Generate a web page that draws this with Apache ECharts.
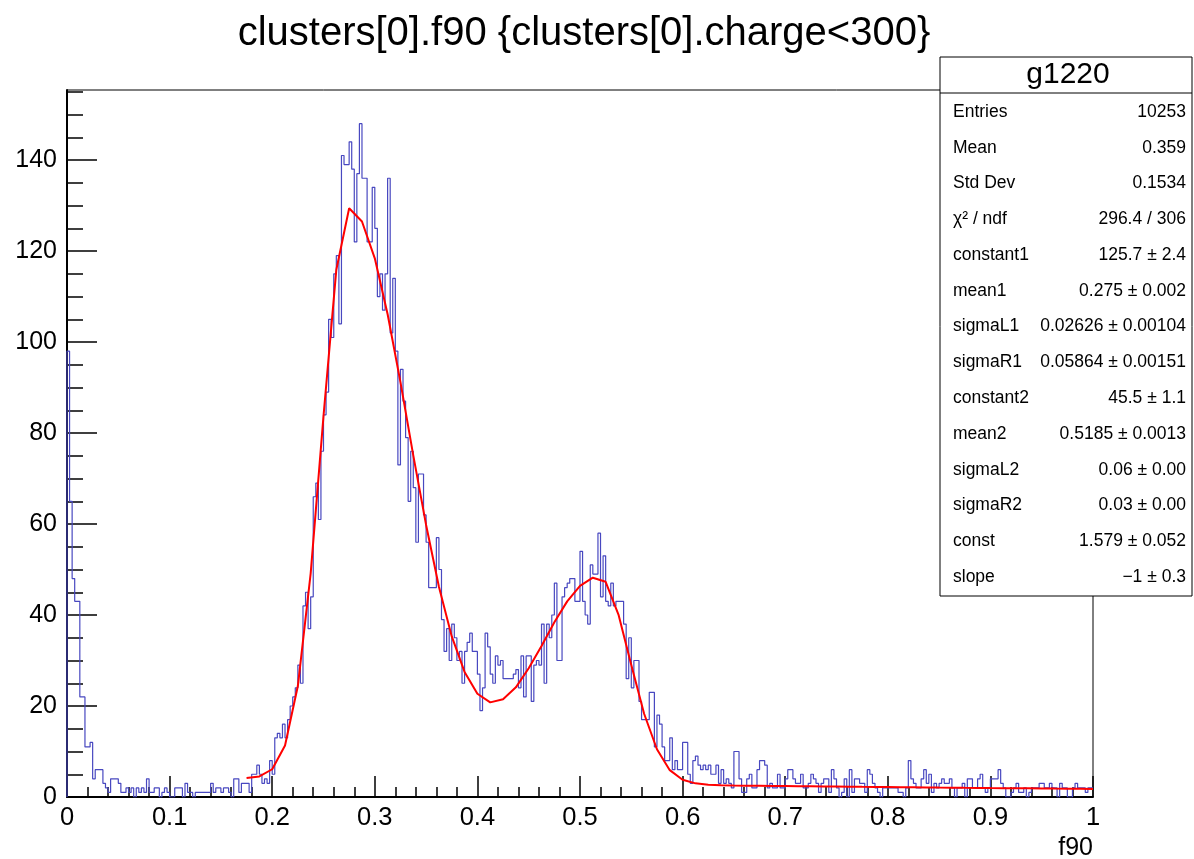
<!DOCTYPE html>
<html><head><meta charset="utf-8">
<script src="https://cdn.jsdelivr.net/npm/echarts@6/dist/echarts.min.js"></script>
<style>html,body{margin:0;padding:0;background:#fff}#c{width:1194px;height:859px}</style>
</head><body><div id="c"></div>
<script>
// ---- data ----
const binLow = 0, binHigh = 1, nBins = 400;
const counts = [
 98, 65, 48, 43, 43, 22, 22, 11, 11, 12,
 4, 6, 6, 6, 3, 2, 1, 4, 4, 4,
 3, 1, 1, 2, 1, 2, 0, 2, 1, 2,
 1, 4, 1, 1, 2, 2, 0, 1, 2, 1,
 0, 0, 2, 2, 2, 0, 3, 1, 1, 0,
 1, 1, 1, 1, 1, 1, 3, 1, 2, 2,
 1, 2, 2, 1, 0, 4, 4, 1, 3, 3,
 3, 1, 5, 5, 7, 5, 3, 4, 3, 8,
 5, 13, 14, 13, 16, 13, 17, 20, 22, 24,
 29, 25, 42, 45, 37, 44, 66, 69, 61, 76,
 84, 89, 105, 101, 115, 119, 104, 141, 139, 139,
 144, 138, 122, 137, 148, 136, 136, 122, 122, 134,
 125, 110, 115, 107, 115, 136, 102, 114, 98, 73,
 94, 87, 79, 65, 76, 68, 56, 71, 71, 62,
 56, 46, 46, 46, 57, 50, 39, 32, 37, 30,
 38, 35, 30, 32, 25, 32, 34, 36, 32, 32,
 27, 19, 24, 36, 33, 27, 25, 31, 29, 30,
 26, 26, 26, 26, 27, 28, 24, 31, 22, 31,
 31, 21, 29, 30, 29, 38, 25, 38, 35, 40,
 47, 30, 30, 44, 46, 47, 48, 48, 43, 43,
 54, 43, 40, 38, 51, 49, 49, 58, 44, 53,
 43, 42, 47, 42, 43, 43, 43, 38, 26, 35,
 24, 30, 30, 21, 17, 17, 17, 23, 23, 11,
 18, 16, 11, 8, 8, 13, 6, 8, 6, 6,
 12, 12, 5, 3, 8, 9, 7, 6, 7, 6,
 7, 5, 5, 7, 3, 6, 3, 4, 3, 2,
 10, 10, 4, 1, 1, 4, 5, 2, 2, 6,
 8, 8, 7, 2, 3, 2, 2, 5, 2, 2,
 4, 6, 6, 4, 3, 3, 5, 2, 2, 3,
 5, 4, 3, 1, 3, 4, 4, 1, 6, 4,
 2, 0, 1, 4, 0, 6, 1, 4, 4, 3,
 3, 1, 6, 5, 3, 2, 1, 0, 2, 2,
 2, 2, 2, 2, 1, 1, 0, 2, 8, 4,
 3, 2, 2, 4, 6, 3, 5, 1, 3, 2,
 3, 4, 3, 3, 4, 2, 0, 2, 2, 3,
 0, 4, 4, 2, 2, 4, 5, 2, 1, 2,
 4, 4, 4, 6, 3, 2, 0, 0, 1, 2,
 3, 1, 1, 2, 0, 1, 2, 2, 2, 3,
 3, 2, 2, 3, 2, 2, 0, 3, 2, 2,
 0, 0, 2, 3, 2, 2, 2, 1, 2, 2
];
const fitStart = 0.175, fitStep = 0.0125;
const fitValues = [
 4.16, 4.51, 6.10, 11.32, 24.38, 49.17, 83.7, 115.9, 129.4,
 126.5, 118.4, 106.1, 91.2, 75.1, 59.8, 46.2, 35.3, 27.5, 22.7,
 20.8, 21.5, 24.1, 28.3, 33.2, 38.4, 43.0, 46.4,
 48.2, 47.3, 40.1, 29.0, 18.3, 10.5, 5.9, 3.8,
 3.0, 2.7, 2.58, 2.53, 2.50, 2.47, 2.44, 2.41,
 2.38, 2.35, 2.32, 2.29, 2.26, 2.23, 2.21, 2.18,
 2.15, 2.13, 2.10, 2.07, 2.05, 2.02, 2.00, 1.97,
 1.95, 1.92, 1.90, 1.88, 1.85, 1.83, 1.81, 1.78
];
const xTickLabels = [0, 0.1, 0.2, 0.3, 0.4, 0.5, 0.6, 0.7, 0.8, 0.9, 1];
const yTickLabels = [0, 20, 40, 60, 80, 100, 120, 140];
const yMax = 155.4;
const titleText = 'clusters[0].f90 {clusters[0].charge<300}';
const xTitle = 'f90';
const statsTitle = 'g1220';
const statsLabels = ['Entries', 'Mean', 'Std Dev', 'χ² / ndf', 'constant1', 'mean1', 'sigmaL1', 'sigmaR1', 'constant2', 'mean2', 'sigmaL2', 'sigmaR2', 'const', 'slope'];
const statsValues = ['10253', '0.359', '0.1534', '296.4 / 306', '125.7 ± 2.4', '0.275 ± 0.002', '0.02626 ± 0.00104', '0.05864 ± 0.00151', '45.5 ± 1.1', '0.5185 ± 0.0013', '0.06 ± 0.00', '0.03 ± 0.00', '1.579 ± 0.052', '−1 ± 0.3'];

// ---- build ----
const FONT = '"Liberation Sans", Arial, Helvetica, sans-serif';
const w = (binHigh - binLow) / nBins;
const histPts = [[binLow, 0]];
counts.forEach((c, i) => { histPts.push([binLow + i * w, c]); histPts.push([binLow + (i + 1) * w, c]); });
const fitPts = fitValues.map((v, i) => [fitStart + i * fitStep, v]);
const xMinor = []; for (let i = 0; i <= 50; i++) xMinor.push(+(i * 0.02).toFixed(2));
const yMinor = []; for (let i = 0; i <= 31; i++) yMinor.push(i * 5);

const chart = echarts.init(document.getElementById('c'), null, {renderer: 'canvas'});
const axisCommon = {type: 'value', splitLine: {show: false}, axisLine: {onZero: false}};
const statsGraphics = [];
const bx = 940, by = 57, bw = 252, bh = 539, rowY0 = 112, rowDy = 35.77;
statsGraphics.push({type: 'rect', shape: {x: bx, y: by, width: bw, height: bh}, style: {fill: '#fff', stroke: '#000', lineWidth: 1}, z: 100});
statsGraphics.push({type: 'line', shape: {x1: bx, y1: 93, x2: bx + bw, y2: 93}, style: {stroke: '#000', lineWidth: 1}, z: 101});
statsGraphics.push({type: 'text', x: 1068, y: 75, style: {text: statsTitle, fontSize: 30, fontFamily: FONT, fill: '#000', align: 'center', verticalAlign: 'middle'}, z: 101});
statsLabels.forEach((l, i) => {
  statsGraphics.push({type: 'text', x: 953, y: rowY0 + i * rowDy, style: {text: l, fontSize: 17.5, fontFamily: FONT, fill: '#000', align: 'left', verticalAlign: 'middle'}, z: 101});
  statsGraphics.push({type: 'text', x: 1186, y: rowY0 + i * rowDy, style: {text: statsValues[i], fontSize: 17.5, fontFamily: FONT, fill: '#000', align: 'right', verticalAlign: 'middle'}, z: 101});
});

chart.setOption({
  animation: false,
  backgroundColor: '#fff',
  grid: {left: 67, right: 101, top: 90, bottom: 62, show: true, borderColor: '#000', borderWidth: 1, backgroundColor: 'transparent'},
  xAxis: [
    Object.assign({}, axisCommon, {min: 0, max: 1, interval: 0.1, position: 'bottom',
      axisLine: {show: true, onZero: false, lineStyle: {color: '#000', width: 2}},
      axisTick: {show: true, inside: true, length: 21, customValues: xTickLabels, lineStyle: {color: '#000', width: 1.5}},
      axisLabel: {customValues: xTickLabels, color: '#000', fontSize: 25.5, fontFamily: FONT, margin: 8, formatter: v => String(v)}}),
    Object.assign({}, axisCommon, {min: 0, max: 1, position: 'bottom', offset: 0,
      axisLine: {show: false},
      axisTick: {show: true, inside: true, length: 10, customValues: xMinor, lineStyle: {color: '#000', width: 1.5}},
      axisLabel: {show: false}})
  ],
  yAxis: [
    Object.assign({}, axisCommon, {min: 0, max: yMax, interval: 20, position: 'left',
      axisLine: {show: true, onZero: false, lineStyle: {color: '#000', width: 2}},
      axisTick: {show: true, inside: true, length: 30, customValues: yTickLabels, lineStyle: {color: '#000', width: 1.5}},
      axisLabel: {customValues: yTickLabels, color: '#000', fontSize: 25, fontFamily: FONT, margin: 10}}),
    Object.assign({}, axisCommon, {min: 0, max: yMax, position: 'left', offset: 0,
      axisLine: {show: false},
      axisTick: {show: true, inside: true, length: 16, customValues: yMinor, lineStyle: {color: '#000', width: 1.5}},
      axisLabel: {show: false}})
  ],
  series: [
    {type: 'line', xAxisIndex: 0, yAxisIndex: 0, data: histPts, symbol: 'none', smooth: false,
     lineStyle: {color: '#4848c0', width: 1.2}, z: 2},
    {type: 'line', xAxisIndex: 0, yAxisIndex: 0, data: fitPts, symbol: 'none', smooth: false,
     lineStyle: {color: '#ff0000', width: 2}, z: 3}
  ],
  graphic: [
    {type: 'text', x: 584, y: 34, style: {text: titleText, fontSize: 40, fontFamily: FONT, fill: '#000', align: 'center', verticalAlign: 'middle'}, z: 50},
    {type: 'text', x: 1093, y: 848, style: {text: xTitle, fontSize: 25, fontFamily: FONT, fill: '#000', align: 'right', verticalAlign: 'middle'}, z: 50}
  ].concat(statsGraphics)
});
</script>
</body></html>
